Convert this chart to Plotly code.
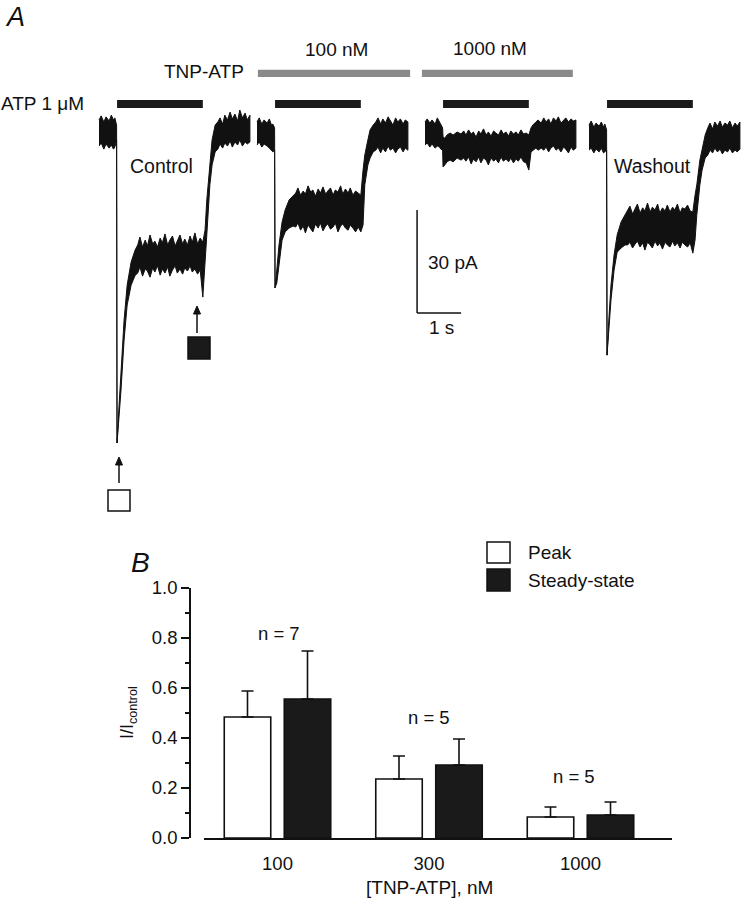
import plotly.graph_objects as go

W, H = 742, 899
FONT = "Liberation Sans, Arial, sans-serif"
INK = "#111111"

# ---------------- Panel A data (time in s, current in pA) ----------------
t_s = [0.00, 0.05, 0.11, 0.16, 0.23, 0.28, 0.33, 0.36, 0.40,
       0.41,
       0.45, 0.50, 0.57, 0.64, 0.73, 0.82,
       0.88, 0.93, 0.99, 1.05, 1.10, 1.16, 1.22, 1.27, 1.33, 1.39, 1.44, 1.50, 1.56,
       1.61, 1.67, 1.73, 1.78, 1.84, 1.90, 1.95, 2.01, 2.07, 2.12, 2.18, 2.24, 2.30,
       2.36,
       2.41, 2.45, 2.52, 2.57, 2.64,
       2.70, 2.75, 2.81, 2.86, 2.92, 2.98, 3.03, 3.09, 3.15, 3.20, 3.26, 3.32, 3.37, 3.43]

control_upper = [3.8, 5.0, 3.2, 4.7, 3.5, 5.2, 3.8, 4.4, 2.3,
                 -90.3,
                 -80.7, -70.5, -54.5, -44.3, -37.6, -34.1,
                 -32.6, -30.3, -33.2, -31.2, -32.9, -29.7, -32.3, -31.5, -33.2, -30.6, -32.0, -29.4, -32.6,
                 -31.2, -30.0, -32.9, -31.5, -29.7, -32.3, -30.9, -32.6, -30.0, -31.8, -29.1, -32.3, -30.6,
                 -31.8,
                 -28.3, -19.5, -7.9, -2.0, 2.3,
                 3.2, 4.4, 2.6, 5.2, 3.8, 6.1, 4.1, 5.5, 3.5, 6.7, 4.4, 5.8, 3.8, 5.2]
control_lower = [-3.8, -2.9, -4.7, -3.2, -4.4, -3.5, -4.7, -4.1, -2.0,
                 -90.3,
                 -83.6, -74.9, -60.3, -50.1, -44.3, -41.5,
                 -40.8, -39.0, -41.7, -39.6, -40.2, -42.0, -39.3, -40.5, -38.7, -41.4, -39.6, -40.8, -39.0,
                 -41.7, -39.9, -38.7, -40.8, -39.6, -41.1, -39.3, -40.2, -38.7, -40.5, -39.6, -41.1, -39.9,
                 -47.8,
                 -37.6, -29.7, -15.1, -9.3, -5.5,
                 -4.7, -3.2, -4.4, -2.9, -3.8, -2.3, -4.1, -2.6, -3.5, -2.0, -3.8, -2.6, -3.2, -2.6]

tnp100_upper = [3.2, 4.4, 2.6, 3.8, 2.9, 4.1, 2.3, 2.6, 1.5,
                -45.1,
                -39.9, -32.6, -25.9, -22.4, -19.5, -18.1,
                -17.5, -16.0, -18.1, -16.9, -17.8, -15.4, -17.2, -16.6, -18.4, -16.3, -17.5, -15.7, -17.8,
                -16.9, -16.0, -18.1, -16.6, -17.2, -15.4, -17.8, -16.3, -17.5, -16.0, -18.1, -16.9, -17.5,
                -18.1,
                -10.8, -6.4, -2.0, 0.9, 2.3,
                3.2, 4.4, 2.6, 4.1, 2.9, 4.7, 3.5, 2.3, 4.4, 3.2, 4.1, 2.6, 3.8, 3.2]
tnp100_lower = [-3.5, -2.6, -4.1, -3.2, -3.8, -4.4, -5.0, -5.5, -5.0,
                -45.1,
                -43.7, -37.6, -31.2, -28.8, -27.7, -27.1,
                -27.4, -26.2, -28.3, -27.1, -29.1, -26.8, -27.7, -28.8, -26.5, -27.7, -26.2, -28.5, -27.1,
                -26.5, -28.0, -27.4, -26.2, -28.8, -27.1, -26.5, -27.7, -28.3, -26.8, -27.7, -28.8, -27.4,
                -28.8,
                -26.8, -15.1, -9.3, -7.3, -5.5,
                -5.0, -4.1, -5.8, -4.4, -5.5, -3.8, -5.0, -4.4, -5.8, -4.7, -4.1, -5.5, -4.4, -5.0]

tnp1000_upper = [3.2, 4.1, 2.9, 3.8, 2.6, 4.4, 3.2, 2.3, 1.5,
                 -1.2,
                 -1.5, -0.6, 0.0, -0.6, 0.3, -0.3,
                 0.6, -0.6, 0.9, -0.3, 0.3, -1.2, 0.6, -0.3, 1.2, -0.6, 0.3, -0.9, 0.6,
                 0.0, -0.6, 0.9, -0.3, 0.3, -0.9, 0.6, -0.3, 0.3, -0.6, 0.9, -0.3, 0.0,
                 -0.6,
                 1.5, 2.3, 3.2, 3.8, 2.9,
                 4.4, 3.2, 4.1, 2.6, 4.4, 3.5, 4.7, 2.9, 3.8, 4.4, 3.2, 4.1, 3.5, 3.8]
tnp1000_lower = [-3.5, -2.9, -4.1, -3.2, -4.4, -3.8, -4.1, -4.7, -5.0,
                 -9.9,
                 -9.3, -8.4, -7.9, -8.4, -7.3, -7.9,
                 -7.3, -8.2, -7.0, -9.0, -7.6, -8.4, -7.0, -8.7, -7.3, -7.9, -9.3, -7.3, -8.2,
                 -7.6, -8.7, -7.0, -8.2, -7.6, -8.4, -7.3, -8.7, -7.6, -8.2, -7.0, -8.4, -8.7,
                 -10.8,
                 -5.5, -5.0, -4.4, -5.0, -4.4,
                 -5.0, -4.1, -5.5, -4.4, -3.8, -5.0, -4.4, -5.5, -4.1, -4.7, -5.8, -4.1, -5.0, -4.4]

washout_upper = [2.3, 3.5, 1.7, 2.9, 2.0, 3.2, 1.7, 2.6, 0.9,
                 -64.7,
                 -54.5, -44.3, -35.5, -29.7, -25.9, -23.9,
                 -22.7, -21.3, -23.6, -22.1, -20.7, -23.3, -21.8, -22.7, -20.4, -23.0, -21.6, -22.4, -20.7,
                 -23.3, -21.8, -22.7, -21.0, -23.0, -21.6, -22.4, -20.7, -23.3, -21.8, -22.1, -21.0, -22.7,
                 -23.0,
                 -18.1, -15.1, -7.9, -5.0, -0.6,
                 1.5, 2.9, 1.2, 3.2, 2.0, 3.5, 1.7, 2.9, 2.3, 3.5, 1.5, 2.9, 2.0, 3.2]
washout_lower = [-5.0, -4.4, -5.8, -4.7, -5.5, -4.4, -5.8, -5.5, -5.0,
                 -64.7,
                 -58.8, -48.6, -39.9, -34.7, -33.5, -32.6,
                 -32.6, -31.8, -33.5, -32.3, -31.5, -33.2, -32.0, -34.1, -31.8, -32.6, -33.5, -31.5, -32.9,
                 -32.0, -33.8, -31.8, -32.6, -33.2, -31.5, -32.9, -32.0, -33.5, -31.8, -32.6, -33.2, -32.0,
                 -35.0,
                 -31.2, -23.9, -15.1, -10.8, -7.3,
                 -6.4, -5.0, -5.8, -4.4, -5.5, -4.7, -6.1, -5.0, -5.5, -4.4, -5.8, -5.0, -5.5, -4.7]

sweep_labels = ["Control", "100 nM", "1000 nM", "Washout"]
atp_on_s, atp_off_s = 0.41, 2.36          # ATP 1 µM application
tnp_on_s = [0.02, -0.07]                  # TNP-ATP application (sweeps 2 and 3)
tnp_off_s = [3.48, 3.36]
scale_pA, scale_s = 30, 1

# ---------------- Panel B data ----------------
categories = ["100", "300", "1000"]
series_names = ["Peak", "Steady-state"]
peak_vals = [0.484, 0.236, 0.084]
peak_err = [0.104, 0.092, 0.040]
steady_vals = [0.556, 0.292, 0.092]
steady_err = [0.192, 0.104, 0.052]
n_labels = ["n = 7", "n = 5", "n = 5"]
n_label_y = [0.82, 0.484, 0.248]


def P(x, y):
    return x / W, 1 - y / H


fig = go.Figure()

# ---- layout geometry of panel A ----
PX_PER_PA = 103 / 30
PX_PER_S = 44
zero_py = 133
A_bottom = 540
sweep_x0 = [99, 257, 425, 589]
sweeps = [(control_upper, control_lower), (tnp100_upper, tnp100_lower),
          (tnp1000_upper, tnp1000_lower), (washout_upper, washout_lower)]

axis_names = ["x", "x2", "x3", "x4"]
for i, ((up, lo), x0) in enumerate(zip(sweeps, sweep_x0)):
    xs = list(t_s) + list(reversed(t_s))
    ys = list(up) + list(reversed(lo))
    fig.add_trace(go.Scatter(x=xs, y=ys, xaxis=axis_names[i], yaxis="y", mode="lines",
                             fill="toself", fillcolor=INK, line=dict(color=INK, width=1.0),
                             showlegend=False, hoverinfo="skip", name=sweep_labels[i]))
    d0 = x0 - 12
    d1 = min(W, x0 + 156)
    key = "xaxis" if i == 0 else f"xaxis{i + 1}"
    fig.layout[key] = dict(domain=[d0 / W, d1 / W], range=[(d0 - x0) / PX_PER_S, (d1 - x0) / PX_PER_S],
                           visible=False, anchor="y", automargin=False)

fig.update_layout(yaxis=dict(domain=[1 - A_bottom / H, 1],
                             range=[-(A_bottom - zero_py) / PX_PER_PA, zero_py / PX_PER_PA],
                             visible=False, anchor="x", automargin=False))

shapes = []
for ax in axis_names:
    shapes.append(dict(type="rect", xref=ax, yref="y", x0=atp_on_s, x1=atp_off_s, y0=7.3, y1=9.6,
                       fillcolor="#1a1a1a", line=dict(width=0)))
for ax, a, b in zip(["x2", "x3"], tnp_on_s, tnp_off_s):
    shapes.append(dict(type="rect", xref=ax, yref="y", x0=a, x1=b, y0=16.3, y1=18.4,
                       fillcolor="#8a8a8a", line=dict(width=0)))
sb_x, sb_y = -0.18, -52.4
shapes.append(dict(type="line", xref="x3", yref="y", x0=sb_x, x1=sb_x, y0=sb_y, y1=sb_y + scale_pA,
                   line=dict(color=INK, width=1.5)))
shapes.append(dict(type="line", xref="x3", yref="y", x0=sb_x, x1=sb_x + scale_s, y0=sb_y, y1=sb_y,
                   line=dict(color=INK, width=1.5)))


def prect(x0, y0, x1, y1, fill):
    a = P(x0, y0)
    b = P(x1, y1)
    return dict(type="rect", xref="paper", yref="paper", x0=a[0], y0=b[1], x1=b[0], y1=a[1],
                fillcolor=fill, line=dict(color=INK, width=1.5))


def arrow_up(x, y_tip, y_tail):
    a = P(x, y_tail)
    b = P(x, y_tip + 7)
    out = [dict(type="line", xref="paper", yref="paper", x0=a[0], y0=a[1], x1=b[0], y1=b[1],
                line=dict(color=INK, width=1.5))]
    t = P(x, y_tip)
    l = P(x - 3.5, y_tip + 8)
    r = P(x + 3.5, y_tip + 8)
    out.append(dict(type="path", xref="paper", yref="paper",
                    path=f"M {t[0]} {t[1]} L {l[0]} {l[1]} L {r[0]} {r[1]} Z",
                    fillcolor=INK, line=dict(color=INK, width=1)))
    return out


shapes.append(prect(108, 490, 130, 511, "white"))
shapes.append(prect(188, 337, 210, 359, "#1a1a1a"))
shapes += arrow_up(119, 457, 483)
shapes += arrow_up(197, 306, 333)
shapes.append(prect(487, 542, 510, 563, "white"))
shapes.append(prect(487, 569, 510, 591, "#1a1a1a"))

annotations = []


def text(x, y, s, size=19.5, xanchor="center", yanchor="middle", **kw):
    px, py = P(x, y)
    annotations.append(dict(x=px, y=py, xref="paper", yref="paper", text=s, showarrow=False,
                            xanchor=xanchor, yanchor=yanchor,
                            font=dict(family=FONT, size=size, color=INK), **kw))


text(3, 0, "<i>A</i>", size=27, xanchor="left", yanchor="top")
text(-1, 104, "ATP 1 \u03bcM", size=19, xanchor="left")
text(162, 72, "TNP-ATP", size=19, xanchor="left")
text(336, 49, sweep_labels[1], size=19)
text(490, 48, sweep_labels[2], size=19)
text(161, 166, sweep_labels[0])
text(652, 166, sweep_labels[3])
text(426, 262, f"{scale_pA} pA", size=19, xanchor="left")
text(441, 327, f"{scale_s} s", size=19)

text(129, 562, "<i>B</i>", size=28, xanchor="left")
text(526, 552, series_names[0], size=19, xanchor="left")
text(526, 580, series_names[1], size=19, xanchor="left")
text(429, 887, "[TNP-ATP], nM", size=19)
px, py = P(128, 713)
annotations.append(dict(x=px, y=py, xref="paper", yref="paper", text="I/I<sub>control</sub>",
                        showarrow=False, textangle=-90, xanchor="center", yanchor="middle",
                        font=dict(family=FONT, size=18, color=INK)))
for xpx, lab, yv in zip([279, 429, 574], n_labels, n_label_y):
    annotations.append(dict(x=xpx / W, y=yv, xref="paper", yref="y2", text=lab, showarrow=False,
                            xanchor="center", yanchor="middle",
                            font=dict(family=FONT, size=18.5, color=INK)))

# ---- Panel B bars ----
fig.add_trace(go.Bar(x=categories, y=peak_vals, name=series_names[0], xaxis="x5", yaxis="y2",
                     marker=dict(color="white", line=dict(color=INK, width=1.6)),
                     error_y=dict(type="data", array=peak_err, arrayminus=[0] * 3, symmetric=False,
                                  color=INK, thickness=1.6, width=6),
                     showlegend=False))
fig.add_trace(go.Bar(x=categories, y=steady_vals, name=series_names[1], xaxis="x5", yaxis="y2",
                     marker=dict(color="#1a1a1a", line=dict(color=INK, width=1.6)),
                     error_y=dict(type="data", array=steady_err, arrayminus=[0] * 3, symmetric=False,
                                  color=INK, thickness=1.6, width=6),
                     showlegend=False))

B_x0, B_x1 = 204, 672
grp_center0, grp_step = 277.5, 151.5
fig.update_layout(
    xaxis5=dict(domain=[B_x0 / W, B_x1 / W], anchor="y2", type="category", automargin=False,
                range=[-(grp_center0 - B_x0) / grp_step, (B_x1 - grp_center0) / grp_step],
                showline=True, linecolor=INK, linewidth=1.6, ticks="", showgrid=False,
                zeroline=False, tickfont=dict(family=FONT, size=18.5, color=INK), ticklabelstandoff=8),
    yaxis2=dict(domain=[1 - 838 / H, 1 - 588 / H], range=[0, 1.0], anchor="free", position=190 / W,
                automargin=False,
                showline=True, linecolor=INK, linewidth=1.6, ticks="outside", ticklen=8, tickwidth=1.6,
                tickcolor=INK, tickvals=[0, 0.2, 0.4, 0.6, 0.8, 1.0], tickformat=".1f",
                minor=dict(tickvals=[0.1, 0.3, 0.5, 0.7, 0.9], ticks="outside", ticklen=4,
                           tickwidth=1.6, tickcolor=INK),
                showgrid=False, zeroline=False, tickfont=dict(family=FONT, size=18.5, color=INK)),
    barmode="group", bargap=0.208, bargroupgap=0.225,
)

fig.update_layout(template="none", width=W, height=H, autosize=False,
                  margin=dict(l=0, r=0, t=0, b=0, pad=0, autoexpand=False),
                  paper_bgcolor="white", plot_bgcolor="rgba(0,0,0,0)",
                  shapes=shapes, annotations=annotations, showlegend=False,
                  font=dict(family=FONT, color=INK))

fig.write_html("out.html", config={"displayModeBar": False},
               post_script="document.body.style.margin='0px';")
